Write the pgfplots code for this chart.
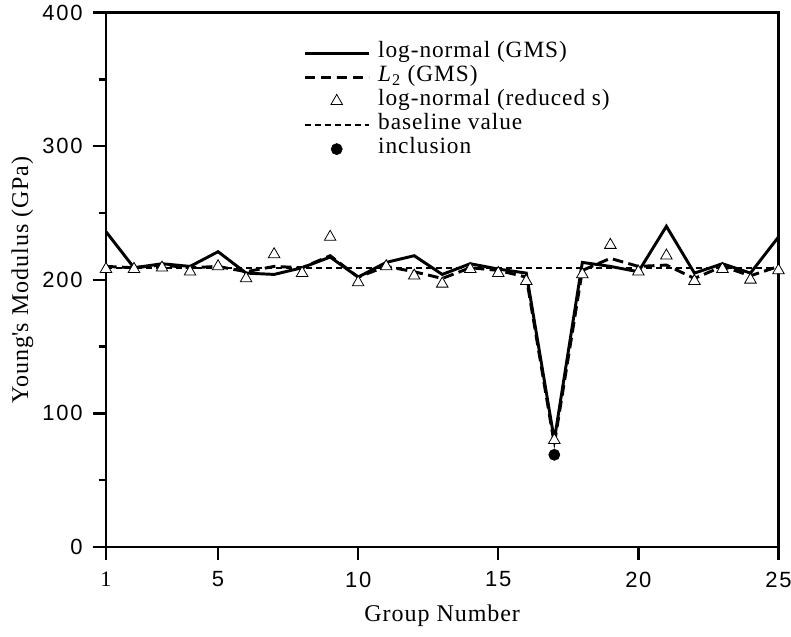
\documentclass[border=0pt]{standalone}
\usepackage{fontspec}
\setmainfont{Liberation Serif}[LetterSpace=4]
\setsansfont{Liberation Sans}
\newfontfamily\tickfont{Liberation Sans}[LetterSpace=8]
\usepackage{pgfplots}
\usepackage{pgfplotstable}
\pgfplotsset{compat=1.18}

% group, log-normal (GMS), L2 (GMS), log-normal (reduced s)
\pgfplotstableread{
g  sol  ltwo red
1  236  210  208
2  209  209  208
3  212  211  209
4  210  209  206
5  221  210  210
6  205  206  201
7  204  210  219
8  209  209  205
9  217  218  232
10 202  202  198
11 213  210  210
12 218  206  203
13 204  201  197
14 212  209  208
15 208  207  205
16 205  202  199
17 80   77   80
18 213  207  204
19 210  216  226
20 206  210  206
21 240  211  218
22 205  201  199
23 212  210  208
24 205  203  200
25 232  210  207
}\modtab

\begin{document}
\begin{tikzpicture}
\begin{axis}[
    name=ax,
    scale only axis,
    width=504.4pt, height=400.9pt,
    xmin=1, xmax=25, ymin=0, ymax=400,
    xtick={1,5,10,15,20,25},
    xticklabels={{\rmfamily 1},5,10,15,20,25},
    ytick={0,100,200,300,400},
    minor y tick num=1,
    tick align=outside, tick pos=left,
    major tick length=10pt, minor tick length=5.5pt,
    every tick/.style={black, line width=1.8pt},
    axis line style={line width=2.2pt},
    /pgf/number format/assume math mode=true,
    tick label style={font=\tickfont\fontsize{16.5}{16.5}\selectfont},
    xticklabel style={yshift=-5pt},
    yticklabel style={xshift=-4pt},
    label style={font=\fontsize{18}{20}\selectfont},
    xlabel={Group Number},
    ylabel={Young\textquotesingle s Modulus (GPa)},
    xlabel style={yshift=-6pt},
    legend cell align=left,
    legend style={draw=none, fill=none, at={(0.287,0.952)}, anchor=north west,
        font=\fontsize{17.5}{18}\selectfont, row sep=0pt,
        nodes={text height=10.5pt, text depth=3.5pt},
        /tikz/every odd column/.append style={column sep=4pt}},
    legend image code/.code={\draw[mark repeat=2,mark phase=2,#1] plot coordinates {(0pt,0pt) (24pt,0pt) (48pt,0pt)};},
]
\addplot[black, line width=2.2pt, no marks] table[x=g, y=sol] {\modtab};
\addlegendentry{log-normal (GMS)}
\addplot[black, line width=2.2pt, dash pattern=on 8pt off 4pt, no marks] table[x=g, y=ltwo] {\modtab};
\addlegendentry{\textit{L}\textsubscript{2} (GMS)}
\addplot[only marks, mark=triangle*, mark size=5pt, mark options={fill=white, draw=black, line width=0.6pt}] table[x=g, y=red] {\modtab};
\addlegendentry{log-normal (reduced s)}
\addplot[black, line width=1.8pt, dash pattern=on 4.5pt off 3pt, no marks] coordinates {(1,209) (25,209)};
\addlegendentry{baseline value}
\addplot[only marks, mark=*, mark size=4.2pt, black] coordinates {(17,69)};
\addlegendentry{inclusion}
\end{axis}
\pgfresetboundingbox
\path ([shift={(-79.5pt,-66.75pt)}]ax.south west) rectangle ([shift={(9.4pt,9.4pt)}]ax.north east);
\end{tikzpicture}
\end{document}
